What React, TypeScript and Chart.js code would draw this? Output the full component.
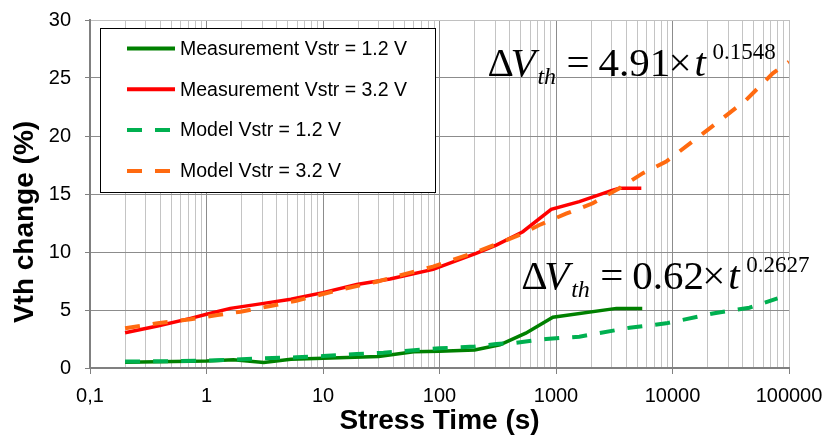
import { useEffect, useRef } from 'react';
import { Chart, registerables } from 'chart.js';

Chart.register(...registerables);

// ---- data ----
const meas12Time = [0.2, 1, 1.7, 3.1, 5.3, 10, 30, 60, 100, 200, 330, 550, 940, 3300, 5500];
const meas12Vth = [0.5, 0.6, 0.72, 0.47, 0.75, 0.85, 1.0, 1.4, 1.45, 1.55, 2.0, 3.0, 4.37, 5.14, 5.14];

const meas32Time = [0.2, 0.38, 0.73, 1, 1.6, 3.1, 5.3, 10, 19.5, 37.6, 88, 206, 307, 519, 910, 1585, 3070, 3500, 5400];
const meas32Vth = [3.04, 3.62, 4.28, 4.63, 5.14, 5.57, 5.92, 6.5, 7.2, 7.67, 8.5, 9.89, 10.6, 11.75, 13.68, 14.34, 15.34, 15.49, 15.49];

const model12Time = [0.2, 1, 2, 3.1, 5.9, 10, 19.5, 33, 100, 200, 307, 455, 822, 1585, 4270, 8830, 22200, 45700, 79700];
const model12Vth = [0.55, 0.63, 0.75, 0.83, 0.92, 1.03, 1.2, 1.32, 1.7, 1.85, 2.07, 2.18, 2.5, 2.7, 3.47, 3.85, 4.7, 5.2, 6.0];

const model32Time = [0.2, 0.38, 0.73, 1.24, 1.96, 3.54, 5.9, 10, 16, 29, 88, 206, 486, 720, 1220, 2070, 3500, 5570, 8830, 18200, 42800, 72600, 100000];
const model32Vth = [3.42, 3.85, 4.2, 4.57, 4.85, 5.34, 5.8, 6.38, 6.87, 7.44, 8.74, 10.0, 11.47, 12.33, 13.3, 14.2, 15.5, 16.8, 17.8, 20.2, 23.1, 25.4, 26.4];

const seriesLabels = [
  'Measurement Vstr = 1.2 V',
  'Measurement Vstr = 3.2 V',
  'Model Vstr = 1.2 V',
  'Model Vstr = 3.2 V',
];

const xTickLabels = ['0,1', '1', '10', '100', '1000', '10000', '100000'];
const xTitle = 'Stress Time (s)';
const yTitle = 'Vth change (%)';

const fit32Coef = '4.91';
const fit32Exp = '0.1548';
const fit12Coef = '0.62';
const fit12Exp = '0.2627';

// annotation anchors (data coordinates)
const fit32Anchor = { t: 258, v: 25.2 };
const fit12Anchor = { t: 502, v: 6.8 };

// ---- styles ----
const SANS = '"Liberation Sans", Arial, Helvetica, sans-serif';
const SERIF = '"Liberation Serif", "Times New Roman", Times, serif';
const COLORS = ['#008000', '#ff0000', '#00b050', '#ff6a10'];
const DASHED = [false, false, true, true];
const DASH = [15, 13];

const xGridValues: number[] = [];
for (let e = -1; e <= 5; e++) {
  for (let m = 1; m <= 9; m++) {
    const v = parseFloat((m * Math.pow(10, e)).toPrecision(6));
    if (v <= 100000) xGridValues.push(v);
  }
}
const isDecade = (v: number) => Math.abs(Math.log10(v) - Math.round(Math.log10(v))) < 1e-9;

function toPoints(ts: number[], vs: number[]) {
  return ts.map((t, i) => ({ x: t, y: vs[i] }));
}

function drawFormula(ctx: CanvasRenderingContext2D, x: number, y: number, coef: string, exp: string) {
  ctx.save();
  ctx.fillStyle = '#000';
  ctx.textAlign = 'left';
  ctx.textBaseline = 'alphabetic';
  ctx.font = `41px ${SERIF}`;
  ctx.fillText('\u0394', x, y);
  ctx.font = `italic 41px ${SERIF}`;
  ctx.fillText('V', x + 23, y);
  ctx.font = `italic 24px ${SERIF}`;
  ctx.fillText('th', x + 50, y + 8);
  ctx.font = `41px ${SERIF}`;
  ctx.fillText('=', x + 79, y);
  ctx.fillText(coef, x + 111, y);
  ctx.fillText('\u00d7', x + 181, y);
  ctx.font = `italic 41px ${SERIF}`;
  ctx.fillText('t', x + 207, y);
  ctx.font = `23px ${SERIF}`;
  ctx.fillText(exp, x + 225, y - 17);
  ctx.restore();
}

const overlayPlugin = {
  id: 'overlay',
  afterDraw(chart: any) {
    const ctx: CanvasRenderingContext2D = chart.ctx;
    const area = chart.chartArea;
    const xs = chart.scales.x;
    const ys = chart.scales.y;

    // y axis title
    ctx.save();
    ctx.translate(25, (area.top + area.bottom) / 2 + 28);
    ctx.rotate(-Math.PI / 2);
    ctx.font = `bold 28px ${SANS}`;
    ctx.fillStyle = '#000';
    ctx.textAlign = 'center';
    ctx.textBaseline = 'middle';
    ctx.fillText(yTitle, 0, 0);
    ctx.restore();

    // legend box
    const lx = area.left + 10;
    const ly = area.top + 8;
    const lw = 335;
    const lh = 164;
    ctx.save();
    ctx.fillStyle = '#fff';
    ctx.fillRect(lx, ly, lw, lh);
    ctx.strokeStyle = '#000';
    ctx.lineWidth = 1;
    ctx.strokeRect(Math.round(lx) + 0.5, Math.round(ly) + 0.5, lw, lh);
    chart.data.datasets.forEach((ds: any, i: number) => {
      const cy = ly + 20.5 + i * 40.8;
      ctx.beginPath();
      ctx.strokeStyle = ds.borderColor;
      ctx.lineWidth = 4;
      ctx.setLineDash(DASHED[i] ? DASH : []);
      ctx.moveTo(lx + 27, cy);
      ctx.lineTo(lx + 75, cy);
      ctx.stroke();
      ctx.setLineDash([]);
      ctx.font = `19.5px ${SANS}`;
      ctx.fillStyle = '#000';
      ctx.textAlign = 'left';
      ctx.textBaseline = 'middle';
      ctx.fillText(ds.label, lx + 80, cy + 1);
    });
    ctx.restore();

    // fitted formulas
    drawFormula(ctx, xs.getPixelForValue(fit32Anchor.t), ys.getPixelForValue(fit32Anchor.v), fit32Coef, fit32Exp);
    drawFormula(ctx, xs.getPixelForValue(fit12Anchor.t), ys.getPixelForValue(fit12Anchor.v), fit12Coef, fit12Exp);
  },
};

export default function App() {
  const ref = useRef<HTMLCanvasElement>(null);

  useEffect(() => {
    document.body.style.margin = '0';
    const series = [
      toPoints(meas12Time, meas12Vth),
      toPoints(meas32Time, meas32Vth),
      toPoints(model12Time, model12Vth),
      toPoints(model32Time, model32Vth),
    ];
    const chart = new Chart(ref.current as HTMLCanvasElement, {
      type: 'line',
      data: {
        datasets: series.map((data, i) => ({
          label: seriesLabels[i],
          data,
          borderColor: COLORS[i],
          backgroundColor: COLORS[i],
          borderWidth: DASHED[i] ? 4 : 3.5,
          borderDash: DASHED[i] ? DASH : [],
          pointRadius: 0,
          tension: 0,
          fill: false,
          order: DASHED[i] ? 0 : 1,
        })),
      },
      options: {
        animation: false,
        responsive: false,
        maintainAspectRatio: false,
        layout: { padding: { top: 20, right: 40, left: 0, bottom: 0 } },
        plugins: {
          legend: { display: false },
          tooltip: { enabled: false },
        },
        scales: {
          x: {
            type: 'logarithmic',
            min: 0.1,
            max: 100000,
            afterBuildTicks: (scale: any) => {
              scale.ticks = xGridValues.map((v) => ({ value: v, major: isDecade(v) }));
            },
            afterFit: (scale: any) => {
              scale.height = 67;
              scale.paddingLeft = 0;
              scale.paddingRight = 0;
            },
            ticks: {
              autoSkip: false,
              maxRotation: 0,
              minRotation: 0,
              padding: 10,
              color: '#000',
              font: { family: SANS, size: 20 },
              callback: (value: any) => {
                const v = Number(value);
                return isDecade(v) ? xTickLabels[Math.round(Math.log10(v)) + 1] : '';
              },
            },
            grid: {
              color: (c: any) => {
                const v = c.tick ? c.tick.value : 0;
                if (v >= 100000) return '#c0c0c0';
                return isDecade(v) ? '#8c8c8c' : '#c4c4c4';
              },
              lineWidth: 1,
              tickLength: 6,
              tickColor: (c: any) => (c.tick && isDecade(c.tick.value) ? '#808080' : 'rgba(0,0,0,0)'),
            },
            border: { color: '#808080', width: 2 },
            title: {
              display: true,
              text: xTitle,
              color: '#000',
              font: { family: SANS, size: 28, weight: 'bold', lineHeight: 1 },
              padding: { top: 0, bottom: 0 },
            },
          } as any,
          y: {
            type: 'linear',
            min: 0,
            max: 30,
            afterFit: (scale: any) => {
              scale.width = 90;
              scale.paddingTop = 0;
              scale.paddingBottom = 0;
            },
            ticks: {
              stepSize: 5,
              padding: 14,
              color: '#000',
              font: { family: SANS, size: 20 },
            },
            grid: {
              color: (c: any) => (c.tick && c.tick.value === 30 ? '#c0c0c0' : '#8c8c8c'),
              lineWidth: 1,
              tickLength: 5,
              tickColor: '#808080',
            },
            border: { color: '#808080', width: 2 },
          } as any,
        },
      },
      plugins: [overlayPlugin],
    } as any);
    return () => chart.destroy();
  }, []);

  return (
    <div style={{ width: 829, height: 435 }}>
      <canvas ref={ref} width={829} height={435} style={{ display: 'block' }} />
    </div>
  );
}
